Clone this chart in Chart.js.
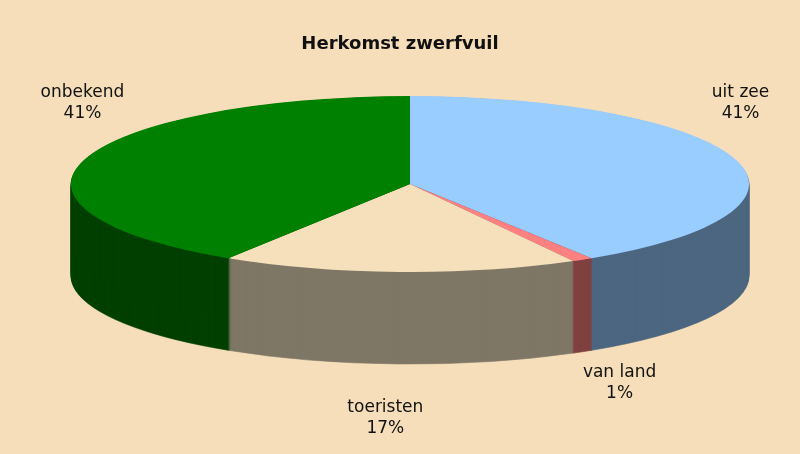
<!DOCTYPE html>
<html lang="nl">
<head>
    <meta charset="utf-8">
    <script src="https://cdn.jsdelivr.net/npm/chart.js@4.4.1/dist/chart.umd.min.js"></script>
    <title>Herkomst zwerfvuil</title>
    <style>
    html, body {
        margin: 0;
        padding: 0;
        background-color: #F5DEB9;
    }
    .chart-container {
        position: relative;
        width: 800px;
        height: 454px;
    }
    </style>
</head>
<body>
    <div class="chart-container">
        <canvas id="myChart"></canvas>
    </div>

    <script>
        // data
        var categories = ["uit zee", "van land", "toeristen", "onbekend"];
        var percentages = [41, 1, 17, 41];

        // colours: top face and side face of each slice
        var topColors = ["#99CCFF", "#FF8080", "#F6E0BB", "#008000"];
        var sideColors = ["#4D6680", "#804040", "#7F7766", "#004000"];

        // label nudges relative to the slice edge
        var labelOffsets = [[5, -56], [37, 31], [-14, 54], [-2, -56]];

        var tilt = {cx: 410, cy: 184, rx: 339, ry: 88, depth: 92};

        var pie3d = {
            id: "pie3d",
            beforeDatasetsDraw: function (chart) {
                var ctx = chart.ctx;
                var arcs = chart.getDatasetMeta(0).data;
                var p = arcs[0].getProps(["x", "y", "outerRadius"], true);
                var sx = tilt.rx / p.outerRadius, sy = tilt.ry / p.outerRadius;

                // side wall, stacked from the bottom up
                for (var d = tilt.depth; d >= 1; d--) {
                    ctx.save();
                    ctx.translate(tilt.cx, tilt.cy + d);
                    ctx.scale(sx, sy);
                    ctx.translate(-p.x, -p.y);
                    arcs.forEach(function (arc, i) {
                        var a = arc.getProps(["x", "y", "startAngle", "endAngle", "outerRadius"], true);
                        ctx.beginPath();
                        ctx.moveTo(a.x, a.y);
                        ctx.arc(a.x, a.y, a.outerRadius, a.startAngle, a.endAngle);
                        ctx.closePath();
                        ctx.fillStyle = sideColors[i];
                        ctx.strokeStyle = sideColors[i];
                        ctx.lineWidth = 1 / sx;
                        ctx.fill();
                        ctx.stroke();
                    });
                    ctx.restore();
                }

                // top face is drawn by Chart.js itself, squashed into an ellipse
                ctx.save();
                ctx.translate(tilt.cx, tilt.cy);
                ctx.scale(sx, sy);
                ctx.translate(-p.x, -p.y);
            },
            afterDatasetsDraw: function (chart) {
                chart.ctx.restore();
            },
            afterDraw: function (chart) {
                var ctx = chart.ctx;
                var arcs = chart.getDatasetMeta(0).data;
                ctx.save();
                ctx.font = "17px 'DejaVu Sans'";
                ctx.fillStyle = "#111";
                ctx.textAlign = "center";
                ctx.textBaseline = "middle";
                arcs.forEach(function (arc, i) {
                    var a = arc.getProps(["startAngle", "endAngle"], true);
                    var mid = (a.startAngle + a.endAngle) / 2;
                    var s = Math.sin(mid);
                    var x = tilt.cx + tilt.rx * Math.cos(mid) + labelOffsets[i][0];
                    var y = tilt.cy + tilt.ry * s + (s > 0 ? tilt.depth : 0) + labelOffsets[i][1];
                    ctx.fillText(categories[i], x, y - 10.5);
                    ctx.fillText(percentages[i] + "%", x, y + 10.5);
                });
                ctx.restore();
            }
        };

        var ctx = document.getElementById("myChart").getContext("2d");
        var myChart = new Chart(ctx, {
            type: "pie",
            data: {
                labels: categories,
                datasets: [{
                    data: percentages,
                    backgroundColor: topColors,
                    borderWidth: 0
                }]
            },
            options: {
                responsive: true,
                maintainAspectRatio: false,
                animation: false,
                events: [],
                layout: {padding: 0},
                plugins: {
                    legend: {display: false},
                    tooltip: {enabled: false},
                    title: {
                        display: true,
                        text: "Herkomst zwerfvuil",
                        color: "#111",
                        font: {family: "'DejaVu Sans'", size: 18, weight: "bold"},
                        padding: {top: 34, bottom: 10}
                    }
                }
            },
            plugins: [pie3d]
        });
    </script>
</body>
</html>
